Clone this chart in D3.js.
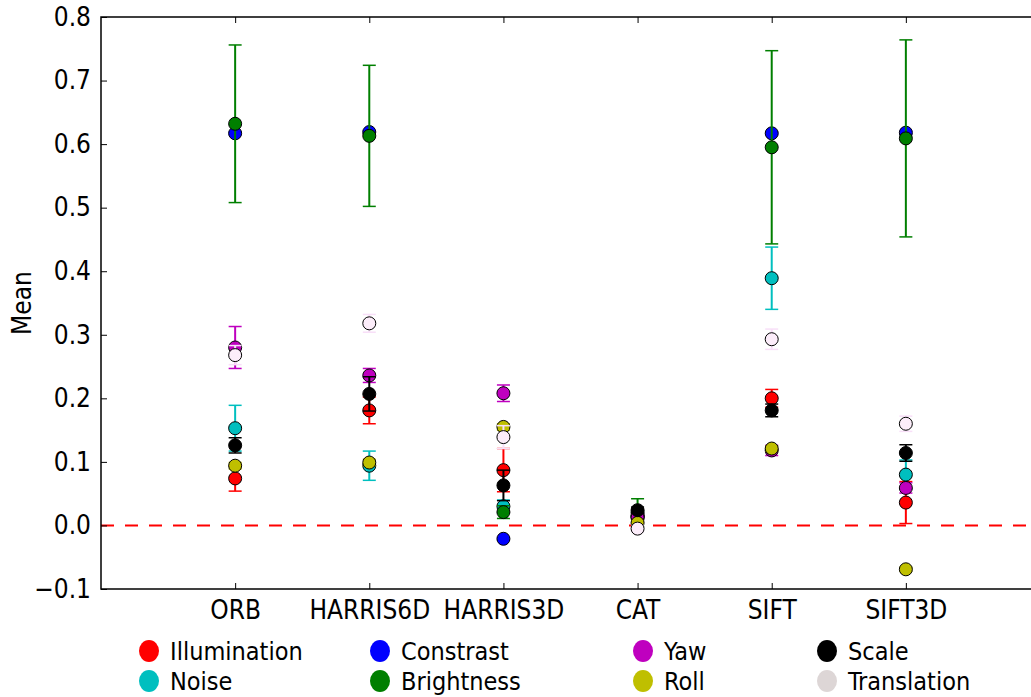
<!DOCTYPE html>
<html>
<head>
<meta charset="utf-8">
<script src="https://cdn.jsdelivr.net/npm/d3@7"></script>
<style>
  html, body { margin: 0; padding: 0; background: #fff; }
  svg { display: block; }
  text { font-family: "DejaVu Sans Condensed", "DejaVu Sans", sans-serif; font-stretch: condensed; }
</style>
</head>
<body>
<svg id="chart" width="1031" height="697"></svg>
<script>
// Detector categories along the x axis
const categories = ["ORB", "HARRIS6D", "HARRIS3D", "CAT", "SIFT", "SIFT3D"];

// Transformation series (drawing order)
const seriesNames = ["Illumination", "Noise", "Constrast", "Brightness", "Yaw", "Roll", "Scale", "Translation"];
const seriesColors = ["#ff0000", "#00bfbf", "#0000ff", "#007f00", "#bf00bf", "#bfbf00", "#000000", "#fcedfa"];
const errColors    = ["#ff0000", "#00bfbf", "#0000ff", "#007f00", "#bf00bf", "#bfbf00", "#000000", "#f8dff8"];
const legendColors = ["#ff0000", "#00bfbf", "#0000ff", "#007f00", "#bf00bf", "#bfbf00", "#000000", "#ddd6d6"];

// Mean values per series, one per category
const illumination = [0.074, 0.181, 0.087, 0.015, 0.200, 0.036];
const noise        = [0.153, 0.094, 0.030, 0.015, 0.389, 0.080];
const constrast    = [0.617, 0.619, -0.021, 0.012, 0.617, 0.618];
const brightness   = [0.632, 0.613, 0.021, 0.020, 0.595, 0.609];
const yaw          = [0.280, 0.236, 0.208, 0.013, 0.118, 0.059];
const roll         = [0.094, 0.099, 0.155, 0.004, 0.121, -0.069];
const scale        = [0.126, 0.207, 0.063, 0.024, 0.181, 0.114];
const translation  = [0.268, 0.318, 0.139, -0.005, 0.293, 0.160];

// Standard error (half-length of each error bar)
const illuminationErr = [0.020, 0.021, 0.034, 0.010, 0.014, 0.033];
const noiseErr        = [0.036, 0.023, 0.010, 0.008, 0.049, 0.023];
const constrastErr    = [0.002, 0.002, 0.002, 0.002, 0.002, 0.002];
const brightnessErr   = [0.124, 0.111, 0.010, 0.022, 0.152, 0.155];
const yawErr          = [0.033, 0.011, 0.013, 0.005, 0.008, 0.008];
const rollErr         = [0.005, 0.005, 0.005, 0.003, 0.004, 0.003];
const scaleErr        = [0.012, 0.027, 0.024, 0.005, 0.010, 0.013];
const translationErr  = [0.015, 0.014, 0.018, 0.005, 0.016, 0.012];

const yTicks = [-0.1, 0.0, 0.1, 0.2, 0.3, 0.4, 0.5, 0.6, 0.7, 0.8];

const means = [illumination, noise, constrast, brightness, yaw, roll, scale, translation];
const errs  = [illuminationErr, noiseErr, constrastErr, brightnessErr, yawErr, rollErr, scaleErr, translationErr];

const svg = d3.select("#chart");
const plot = { left: 101, right: 1040, top: 17, bottom: 589 };

const x = d3.scaleLinear().domain([0, categories.length + 1]).range([plot.left, plot.right]);
const y = d3.scaleLinear().domain([-0.1, 0.8]).range([plot.bottom, plot.top]);

const fontSize = 26;
const legendFontSize = 25;

// Zero reference line
svg.append("line")
  .attr("x1", plot.left).attr("x2", plot.right)
  .attr("y1", y(0)).attr("y2", y(0))
  .attr("stroke", "#ff0000").attr("stroke-width", 2)
  .attr("stroke-dasharray", "13,11");

// Series: error bars then markers, one series at a time
means.forEach((vals, s) => {
  const g = svg.append("g").attr("class", "series");
  vals.forEach((v, i) => {
    const cx = x(i + 1);
    const e = errs[s][i];
    g.append("line")
      .attr("x1", cx).attr("x2", cx)
      .attr("y1", y(v - e)).attr("y2", y(v + e))
      .attr("stroke", errColors[s]).attr("stroke-width", 2);
    [v - e, v + e].forEach(cv => {
      g.append("line")
        .attr("x1", cx - 6.5).attr("x2", cx + 6.5)
        .attr("y1", y(cv)).attr("y2", y(cv))
        .attr("stroke", errColors[s]).attr("stroke-width", 1.5);
    });
  });
  g.selectAll("circle").data(vals).join("circle")
    .attr("cx", (d, i) => x(i + 1))
    .attr("cy", d => y(d))
    .attr("r", 6.5)
    .attr("fill", seriesColors[s])
    .attr("stroke", "#000").attr("stroke-width", 1);
});

// Axes with inward ticks
const fmt = d => (d < 0 ? "\u2212" : "") + Math.abs(d).toFixed(1);
const yAxis = d3.axisLeft(y).tickValues(yTicks).tickSize(-6).tickPadding(10).tickFormat(fmt);
const gy = svg.append("g").attr("transform", `translate(${plot.left},0)`).call(yAxis);
gy.select(".domain").remove();
gy.selectAll("text").attr("font-size", fontSize).attr("fill", "#000");
gy.selectAll("line").attr("stroke", "#000");

const xAxis = d3.axisBottom(x).tickValues(d3.range(1, categories.length + 1))
  .tickSize(-6).tickPadding(12).tickFormat(d => categories[d - 1]);
const gx = svg.append("g").attr("transform", `translate(0,${plot.bottom})`).call(xAxis);
gx.select(".domain").remove();
gx.selectAll("text").attr("font-size", fontSize).attr("fill", "#000");
gx.selectAll("line").attr("stroke", "#000");

const xTop = d3.axisTop(x).tickValues(d3.range(1, categories.length + 1)).tickSize(-6).tickFormat("");
const gxt = svg.append("g").attr("transform", `translate(0,${plot.top})`).call(xTop);
gxt.select(".domain").remove();
gxt.selectAll("line").attr("stroke", "#000");

// Let the stylesheet font apply to axis labels
svg.selectAll("g").attr("font-family", null);

// Frame
svg.append("rect")
  .attr("x", plot.left).attr("y", plot.top)
  .attr("width", plot.right - plot.left).attr("height", plot.bottom - plot.top)
  .attr("fill", "none").attr("stroke", "#000").attr("stroke-width", 1.5);

// Y axis title
svg.append("text")
  .attr("transform", `translate(31,${(plot.top + plot.bottom) / 2}) rotate(-90)`)
  .attr("text-anchor", "middle")
  .attr("font-size", fontSize)
  .text("Mean");

// Legend: four columns, two rows, filled column by column
const legendCols = [149, 380, 643, 827];
const legendRows = [651, 681];
const legend = svg.append("g").attr("class", "legend");
seriesNames.forEach((name, s) => {
  const col = Math.floor(s / 2), row = s % 2;
  const lx = legendCols[col], ly = legendRows[row];
  legend.append("ellipse")
    .attr("cx", lx).attr("cy", ly).attr("rx", 10).attr("ry", 11)
    .attr("fill", legendColors[s]);
  legend.append("text")
    .attr("x", lx + 21).attr("y", ly)
    .attr("dy", "0.36em")
    .attr("font-size", legendFontSize)
    .text(name);
});
</script>
</body>
</html>
